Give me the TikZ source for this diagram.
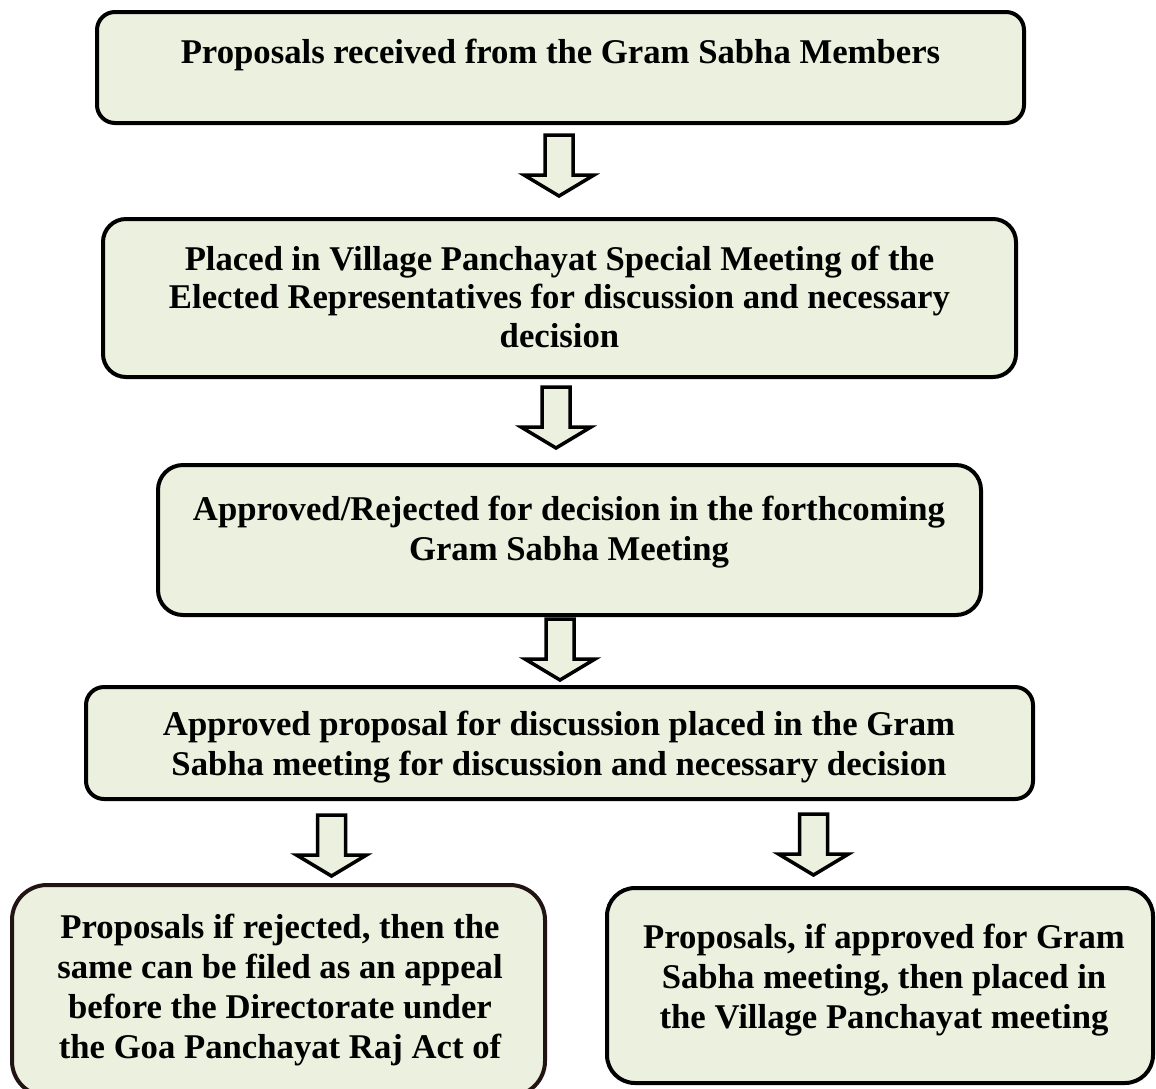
\documentclass[tikz,border=0pt]{standalone}
\usepackage{fontspec}
\setmainfont{Liberation Serif}
\usetikzlibrary{calc}
\definecolor{boxfill}{RGB}{235,241,222}
\definecolor{brownline}{RGB}{35,20,20}
\tikzset{
  flowbox/.style={draw=black, line width=4pt, fill=boxfill, rounded corners=#1, inner sep=0pt},
  flowbox/.default=20pt,
  boxtext/.style={inner sep=0pt, align=center, anchor=north,
    font=\fontsize{34.7}{40}\selectfont\bfseries},
  arrowsty/.style={draw=black, line width=3.5pt, fill=boxfill, line join=miter},
  pics/barrow/.style={code={
    \draw[arrowsty] (-14,0) -- (14,0) -- (14,40) -- (35,40) -- (0,61) -- (-35,40) -- (-14,40) -- cycle;
  }}
}
\begin{document}
\begin{tikzpicture}[x=1pt, y=-1pt]
\useasboundingbox (0,0) rectangle (1156,1088);
\clip (0,0) rectangle (1156,1088);
\fill[white] (0,0) rectangle (1156,1088);

% boxes
\node[flowbox=18pt, minimum width=927pt, minimum height=111pt] (b1) at (560.5,67.5) {};
\node[flowbox=23pt, minimum width=913pt, minimum height=158pt] (b2) at (559.5,298) {};
\node[flowbox=25pt, minimum width=823pt, minimum height=150pt] (b3) at (569.5,540) {};
\node[flowbox=18pt, minimum width=947pt, minimum height=112pt] (b4) at (559.5,743) {};
\node[flowbox=35pt, draw=brownline, minimum width=533pt, minimum height=211pt] (b5) at (278.5,990.5) {};
\node[flowbox=28pt, minimum width=546pt, minimum height=195pt] (b6) at (880,985.5) {};

% texts
\node[boxtext] (t1) at (560.5,35) {\strut Proposals received from the Gram Sabha Members};
\node[boxtext, font=\fontsize{34.7}{38.5}\selectfont\bfseries] (t2) at (559.5,243)
  {\strut Placed in Village Panchayat Special Meeting of the\\Elected Representatives for discussion and necessary\\decision};
\node[boxtext] (t3) at (569,492) {\strut Approved/Rejected for decision in the forthcoming\\Gram Sabha Meeting};
\node[boxtext] (t4) at (559,707) {\strut Approved proposal for discussion placed in the Gram\\Sabha meeting for discussion and necessary decision};
\node[boxtext] (t5) at (280,910) {\strut Proposals if rejected, then the\\same can be filed as an appeal\\before the Directorate under\\the Goa Panchayat Raj Act of};
\node[boxtext] (t6) at (884,920) {\strut Proposals, if approved for Gram\\Sabha meeting, then placed in\\the Village Panchayat meeting};

% block arrows
\pic at ($(b1.south)+(-1.5,10)$) {barrow};
\pic at ($(b2.south)+(-3.5,8)$) {barrow};
\pic at ($(b3.south)+(-9.5,2)$) {barrow};
\pic at ($(b4.south)+(-228,14)$) {barrow};
\pic at ($(b4.south)+(254,13)$) {barrow};
\end{tikzpicture}
\end{document}
